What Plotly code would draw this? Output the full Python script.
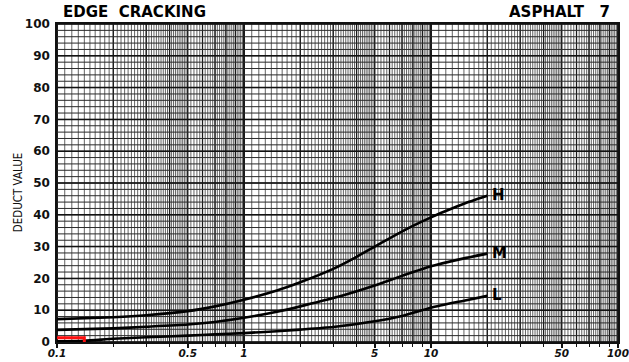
import numpy as np
import plotly.graph_objects as go

# Deduct curves for edge cracking (x = density %, y = deduct value)
h_x = [0.1, 0.2, 0.3, 0.5, 0.7, 1, 1.5, 2, 3, 4, 5, 6, 8, 10, 12, 15, 20]
h_y = [7.2, 7.8, 8.4, 9.7, 11.2, 13.3, 16.2, 18.8, 23.0, 26.8, 30.0, 32.6, 36.5, 39.2, 41.2, 43.5, 46.0]

m_x = [0.1, 0.2, 0.3, 0.5, 0.7, 1, 1.5, 2, 3, 5, 7, 10, 15, 20]
m_y = [3.8, 4.3, 4.8, 5.5, 6.3, 7.6, 9.5, 11.2, 13.8, 17.8, 20.8, 23.8, 26.3, 27.8]

l_x = [0.1, 0.14, 0.2, 0.3, 0.5, 0.7, 1, 1.5, 2, 3, 5, 7, 10, 15, 20]
l_y = [0.2, 0.4, 1.0, 1.5, 2.0, 2.4, 2.8, 3.4, 3.9, 4.7, 6.5, 8.2, 10.8, 13.0, 14.5]

# reading marker
mark_x = [0.1, 0.14, 0.14]
mark_y = [1.3, 1.3, 0]

x_tick_vals = [0.1, 0.5, 1, 5, 10, 50, 100]
x_tick_text = ["0.1", "0.5", "1", "5", "10", "50", "100"]
y_tick_vals = list(range(0, 101, 10))

# log-paper rulings
decades = [0.1, 1, 10]
fine = []
for d in decades:
    for m in np.concatenate([np.arange(1, 2, 0.1), np.arange(2, 5, 0.1), np.arange(5, 10, 0.2)]):
        fine.append(round(m * d, 4))
units = sorted({round(k * d, 4) for d in decades for k in range(1, 10)} | {100.0})
decade_lines = [0.1, 1, 10, 100]
minor_ticks = [u for u in units if u not in x_tick_vals]


def vlines(xs):
    px, py = [], []
    for v in xs:
        px += [v, v, None]
        py += [0, 100, None]
    return px, py


def hlines(ys):
    px, py = [], []
    for v in ys:
        px += [0.1, 100, None]
        py += [v, v, None]
    return px, py


fig = go.Figure()

for xs, w, c in [(fine, 0.8, "#3c3c3c"), (units, 1.3, "#1a1a1a"), (decade_lines, 1.7, "#111")]:
    gx, gy = vlines(xs)
    fig.add_trace(go.Scatter(x=gx, y=gy, mode="lines", line=dict(color=c, width=w),
                             hoverinfo="skip", showlegend=False))
for ys, w, c in [(list(range(0, 101, 2)), 1.0, "#2a2a2a"), (y_tick_vals, 1.5, "#111")]:
    gx, gy = hlines(ys)
    fig.add_trace(go.Scatter(x=gx, y=gy, mode="lines", line=dict(color=c, width=w),
                             hoverinfo="skip", showlegend=False))

for name, xs, ys in [("H", h_x, h_y), ("M", m_x, m_y), ("L", l_x, l_y)]:
    fig.add_trace(go.Scatter(x=xs, y=ys, mode="lines", name=name,
                             line=dict(color="black", width=2.6, shape="spline", smoothing=0.6),
                             showlegend=False))
    fig.add_annotation(x=np.log10(xs[-1]), y=ys[-1], text=f"<b>{name}</b>", showarrow=False,
                       xanchor="left", xshift=3, yshift=1,
                       font=dict(family="DejaVu Sans", size=15, color="black"))

fig.add_trace(go.Scatter(x=mark_x, y=mark_y, mode="lines",
                         line=dict(color="#ff1010", width=3), showlegend=False))

fig.add_annotation(xref="paper", yref="paper", x=0.008, y=1.0, yanchor="bottom", yshift=1,
                   xanchor="left", showarrow=False,
                   text="<b>EDGE\u00a0\u00a0CRACKING</b>",
                   font=dict(family="DejaVu Sans", size=15, color="black"))
fig.add_annotation(xref="paper", yref="paper", x=0.99, y=1.0, yanchor="bottom", yshift=1,
                   xanchor="right", showarrow=False,
                   text="<b>ASPHALT\u00a0\u00a0 7</b>",
                   font=dict(family="DejaVu Sans", size=15, color="black"))
# rotated axis caption
fig.add_annotation(xref="paper", yref="paper", x=-0.07, y=0.47, textangle=-90,
                   xanchor="center", yanchor="middle", showarrow=False,
                   text="DEDUCT VALUE",
                   font=dict(family="DejaVu Sans Condensed, DejaVu Sans", size=11.5, color="#111"))

fig.update_layout(
    width=629, height=362,
    margin=dict(l=57, r=11, t=24, b=20),
    paper_bgcolor="white", plot_bgcolor="white",
    xaxis=dict(type="log", range=[-1, 2], showgrid=False, zeroline=False, automargin=False,
               tickvals=x_tick_vals, ticktext=x_tick_text,
               ticks="outside", ticklen=4, tickwidth=1.5, tickcolor="#111",
               ticklabelstandoff=-3, ticklabeloverflow="allow",
               tickfont=dict(family="DejaVu Sans", size=10.5, color="#111", weight="bold", style="italic"),
               minor=dict(tickvals=minor_ticks, ticks="outside", ticklen=3, tickwidth=1.2,
                          tickcolor="#111", showgrid=False),
               showline=True, linecolor="#111", linewidth=1.5, mirror=True),
    yaxis=dict(range=[0, 100], showgrid=False, zeroline=False, automargin=False,
               tickvals=y_tick_vals, ticks="", ticklabelstandoff=3,
               tickfont=dict(family="DejaVu Sans", size=12, color="#111", weight="bold"),
               showline=True, linecolor="#111", linewidth=1.5, mirror=True),
)

fig.write_html("out.html")
